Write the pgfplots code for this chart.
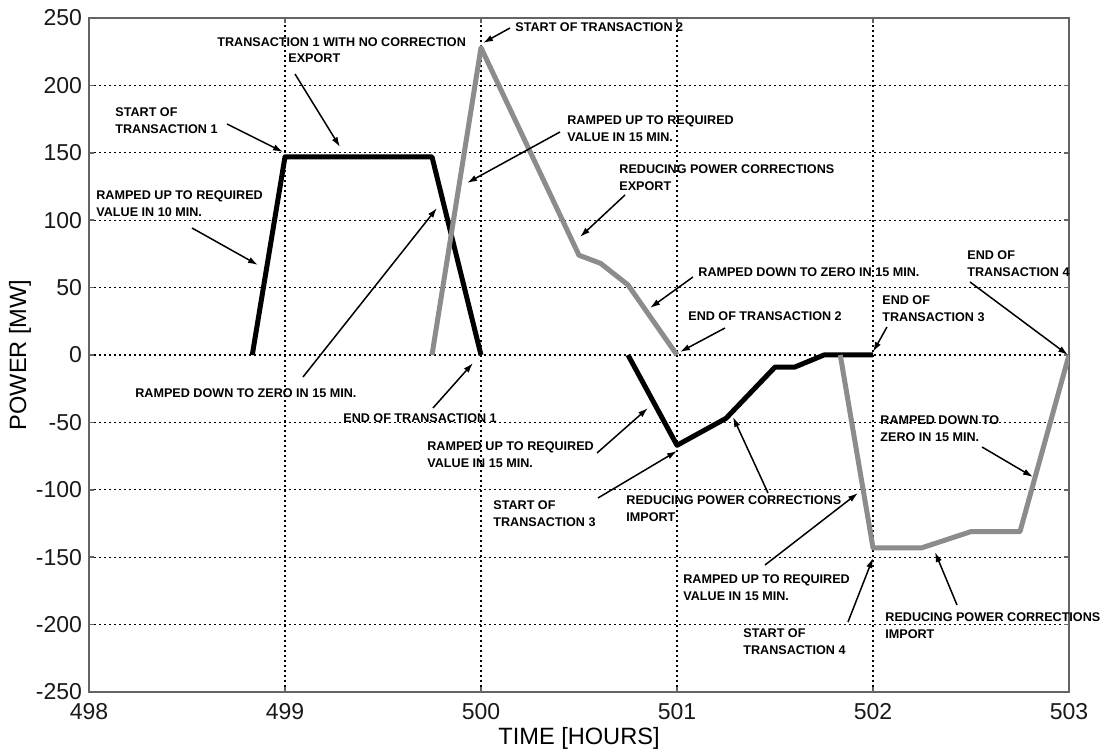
\documentclass[border=0pt]{standalone}
\usepackage{fontspec}
\setmainfont{Liberation Sans}
\usepackage{pgfplots}
\pgfplotsset{compat=1.18}
\usetikzlibrary{arrows.meta}
\definecolor{tgray}{RGB}{140,140,140}
\definecolor{axgray}{RGB}{100,100,100}
\newcommand\ann{\fontsize{6.3}{8.5}\selectfont\bfseries}
\begin{document}
\begin{tikzpicture}
\begin{axis}[
  scale only axis, width=490pt, height=337pt,
  xmin=498, xmax=503, ymin=-250, ymax=250,
  xtick={498,499,500,501,502,503},
  ytick={-250,-200,-150,-100,-50,0,50,100,150,200,250},
  xticklabels={498,499,500,501,502,503},
  yticklabels={-250,-200,-150,-100,-50,0,50,100,150,200,250},
  ticklabel style={font=\fontsize{11.5}{12}\selectfont, text=black!90},
  xticklabel style={yshift=-2.2pt},
  grid=major,
  major grid style={black, line width=0.6pt, dash pattern=on 0.9pt off 1.6pt},
  axis line style={axgray, line width=0.8pt},
  tick style={axgray, line width=0.8pt},
  major tick length=2.5pt,
  tick align=inside,
  xlabel={TIME [HOURS]}, ylabel={POWER [MW]},
  every axis x label/.style={at={(axis description cs:0.5,0)}, anchor=center, yshift=-23pt, font=\fontsize{11.8}{12}\selectfont},
  every axis y label/.style={at={(axis description cs:-0.0704,0.5)}, anchor=center, rotate=90, font=\fontsize{11.8}{12}\selectfont},
]
% Transaction 1 (black)
\addplot[black, line width=2.5pt, line join=round] coordinates {
 (498.833,0) (499,147) (499.75,147) (500,0)};
% Transaction 2 (gray)
\addplot[tgray, line width=2.5pt, line join=round] coordinates {
 (499.75,0) (500,228) (500.5,74) (500.61,68) (500.75,52) (501,0)};
% Transaction 3 (black)
\addplot[black, line width=2.5pt, line join=round] coordinates {
 (500.75,0) (501,-67) (501.25,-47) (501.5,-9) (501.6,-9) (501.75,0) (502,0)};
% Transaction 4 (gray)
\addplot[tgray, line width=2.5pt, line join=round] coordinates {
 (501.833,0) (502,-143) (502.25,-143) (502.5,-131) (502.75,-131) (503,0)};
\end{axis}
\begin{scope}[x=0.5pt, y=-0.5pt, shift={(-44.5pt,346pt)}]
\path[use as bounding box] (0,0) rectangle (1105,752);
\begin{scope}[every node/.style={inner sep=0pt, anchor=west, align=left, font=\ann, text=black}]
\node at (217,42) {TRANSACTION 1 WITH NO CORRECTION};
\node at (288,58) {EXPORT};
\node at (115,121) {START OF\\TRANSACTION 1};
\node at (96,203.5) {RAMPED UP TO REQUIRED\\VALUE IN 10 MIN.};
\node at (135,393) {RAMPED DOWN TO ZERO IN 15 MIN.};
\node at (343,418) {END OF TRANSACTION 1};
\node at (515,27) {START OF TRANSACTION 2};
\node at (567,128.5) {RAMPED UP TO REQUIRED\\VALUE IN 15 MIN.};
\node at (619,177.5) {REDUCING POWER CORRECTIONS\\EXPORT};
\node at (698,272) {RAMPED DOWN TO ZERO IN 15 MIN.};
\node at (688,316) {END OF TRANSACTION 2};
\node at (882,309) {END OF\\TRANSACTION 3};
\node at (967,264) {END OF\\TRANSACTION 4};
\node at (880,428.5) {RAMPED DOWN TO\\ZERO IN 15 MIN.};
\node at (427,454.5) {RAMPED UP TO REQUIRED\\VALUE IN 15 MIN.};
\node at (493,513.5) {START OF\\TRANSACTION 3};
\node at (626,508.5) {REDUCING POWER CORRECTIONS\\IMPORT};
\node at (683,588) {RAMPED UP TO REQUIRED\\VALUE IN 15 MIN.};
\node at (743,642) {START OF\\TRANSACTION 4};
\node at (885,626) {REDUCING POWER CORRECTIONS\\IMPORT};
\end{scope}
\begin{scope}[black, line width=0.75pt, -{Latex[length=5pt,width=3.2pt]}]
\draw (295,74) -- (340,147);
\draw (227,124) -- (283,152);
\draw (192,228) -- (258,265);
\draw (303,377) -- (437,208);
\draw (433,408) -- (473,363);
\draw (510,28) -- (483,43);
\draw (560,132) -- (467,183);
\draw (625,195) -- (580,237);
\draw (693,277) -- (650,308);
\draw (725,328) -- (680,352);
\draw (887,327) -- (873,352);
\draw (970,282) -- (1068,355);
\draw (982,447) -- (1033,477);
\draw (597,453) -- (648,408);
\draw (598,498) -- (677,451);
\draw (768,493) -- (733,417);
\draw (765,565) -- (858,493);
\draw (848,622) -- (873,558);
\draw (957,605) -- (935,552);
\end{scope}
\end{scope}
\end{tikzpicture}
\end{document}
